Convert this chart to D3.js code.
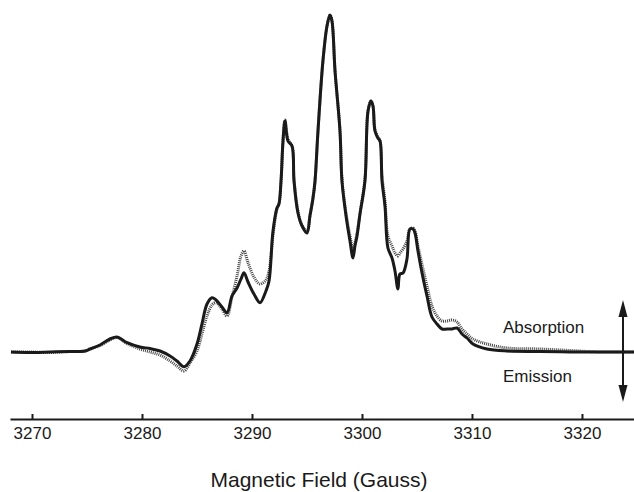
<!DOCTYPE html>
<html>
<head>
<meta charset="utf-8">
<script src="https://cdn.jsdelivr.net/npm/d3@7"></script>
<style>
  html, body { margin: 0; padding: 0; background: #fff; }
  svg { display: block; }
  text { font-family: "Liberation Sans", Arial, sans-serif; fill: #1a1a1a; }
</style>
</head>
<body>
<svg id="chart" width="634" height="492"></svg>
<script>
// Magnetic field (Gauss) sample positions shared by both traces
const field = [
  3268.09, 3269.82, 3271.64, 3273.45, 3274.82, 3275.27, 3276.18, 3277.09, 3277.73, 3278.64,
  3279.82, 3280.73, 3281.64, 3282.55, 3283.18, 3283.82, 3284.36, 3285.00, 3285.45, 3285.91,
  3286.36, 3286.73, 3287.27, 3287.73, 3288.18, 3288.64, 3289.00, 3289.27, 3289.64, 3290.18,
  3290.73, 3291.27, 3291.55, 3291.91, 3292.27, 3292.45, 3292.64, 3292.82, 3293.00, 3293.27,
  3293.64, 3293.82, 3294.18, 3294.55, 3295.00, 3295.27, 3295.55, 3295.73, 3296.00, 3296.45,
  3296.82, 3297.09, 3297.27, 3297.55, 3298.00, 3298.18, 3298.55, 3298.91, 3299.18, 3299.36,
  3299.55, 3299.82, 3300.27, 3300.55, 3300.82, 3301.00, 3301.18, 3301.45, 3301.64, 3301.82,
  3302.09, 3302.36, 3302.73, 3303.00, 3303.27, 3303.45, 3303.73, 3304.09, 3304.36, 3304.64,
  3304.82, 3305.09, 3305.55, 3305.91, 3306.36, 3306.82, 3307.27, 3307.73, 3308.18, 3308.64,
  3309.09, 3309.55, 3310.09, 3311.36, 3313.18, 3316.18, 3318.91, 3321.64, 3324.73
];

// Experimental spectrum (solid), arbitrary units, + = absorption, - = emission
const experimental = [
  0, -0.5, 0, 0.5, 1, 3, 7, 13, 15, 9.3,
  5, 3.5, 1, -4, -9, -14.7, -9, 8, 28, 48,
  54.3, 52, 45, 39.3, 56, 64, 73, 79.3, 70, 58,
  49.3, 61, 71, 121, 144, 148, 171, 211, 231, 211,
  206, 171, 139, 126, 119, 136, 154, 171, 221, 291,
  326, 337, 331, 281, 221, 171, 136, 111, 94, 106,
  116, 138, 171, 241, 251, 246, 221, 214, 211, 171,
  146, 104, 94, 81, 63, 78, 79, 93, 123, 123,
  119, 101, 74, 56, 35, 28, 23, 23, 23, 24,
  18, 14, 8, 3, 1, 0.5, 0, 0, 0
];

// Simulated spectrum (dotted)
const simulated = [
  0, 0, -0.5, 0.5, 1, 3, 6.5, 12, 14.5, 8.5,
  3, 0, -3, -9, -14, -19, -11, 1, 18, 36,
  47, 49.3, 43, 36, 55, 76, 96, 101, 89.3, 75,
  68, 72, 81, 117, 143, 148, 171, 211, 232, 213,
  206, 173, 141, 127, 121, 137, 155, 171, 221, 291,
  326, 337, 331, 281, 221, 173, 139, 116, 103, 109,
  119, 139, 173, 241, 251, 246, 223, 215, 211, 176,
  151, 116, 106, 99, 96, 99, 103, 111, 123, 124,
  121, 106, 83, 66, 46, 36, 31, 31, 32, 30,
  23, 18, 13, 8, 4, 3, 1.5, 0, 0
];

const tickValues = [3270, 3280, 3290, 3300, 3310, 3320];
const xTitle = "Magnetic Field (Gauss)";
const upLabel = "Absorption";
const downLabel = "Emission";

const svg = d3.select("#chart");

const x = d3.scaleLinear().domain([3268, 3324.73]).range([10, 634]);
const y = d3.scaleLinear().domain([0, 337]).range([352, 15]);

const ink = "#1a1a1a";

// Axis
const axis = d3.axisBottom(x)
  .tickValues(tickValues)
  .tickFormat(d3.format("d"))
  .tickSizeInner(-5)
  .tickSizeOuter(0)
  .tickPadding(8);

const gAxis = svg.append("g")
  .attr("transform", "translate(0,419)")
  .call(axis);
gAxis.select(".domain").attr("stroke", ink).attr("stroke-width", 2);
gAxis.selectAll(".tick line").attr("stroke", ink).attr("stroke-width", 2);
gAxis.selectAll(".tick text")
  .attr("fill", ink)
  .style("font-family", '"Liberation Sans", Arial, sans-serif')
  .style("font-size", "17px");

// Axis title
svg.append("text")
  .attr("x", 319)
  .attr("y", 487)
  .attr("text-anchor", "middle")
  .style("font-size", "21px")
  .text(xTitle);

// Traces
const pts = (vals) => field.map((f, i) => [f, vals[i]]);
const line = d3.line()
  .x(d => x(d[0]))
  .y(d => y(d[1]))
  .curve(d3.curveCatmullRom.alpha(0.5));

svg.append("path")
  .attr("d", line(pts(simulated)))
  .attr("fill", "none")
  .attr("stroke", "#444")
  .attr("stroke-width", 3)
  .attr("stroke-dasharray", "1,1");

svg.append("path")
  .attr("d", line(pts(experimental)))
  .attr("fill", "none")
  .attr("stroke", ink)
  .attr("stroke-width", 3)
  .attr("stroke-linejoin", "round");

// Double-headed arrow at the right
const ax = 623;
const yTop = 300, yBot = 402, head = 17, hw = 4.5;
svg.append("line")
  .attr("x1", ax).attr("x2", ax)
  .attr("y1", yTop + head - 2).attr("y2", yBot - head + 2)
  .attr("stroke", ink).attr("stroke-width", 2);
svg.append("path")
  .attr("d", `M${ax},${yTop}L${ax - hw},${yTop + head}L${ax + hw},${yTop + head}Z`)
  .attr("fill", ink);
svg.append("path")
  .attr("d", `M${ax},${yBot}L${ax - hw},${yBot - head}L${ax + hw},${yBot - head}Z`)
  .attr("fill", ink);

svg.append("text")
  .attr("x", 503).attr("y", 333)
  .style("font-size", "17px")
  .text(upLabel);
svg.append("text")
  .attr("x", 503).attr("y", 382)
  .style("font-size", "17px")
  .text(downLabel);
</script>
</body>
</html>
